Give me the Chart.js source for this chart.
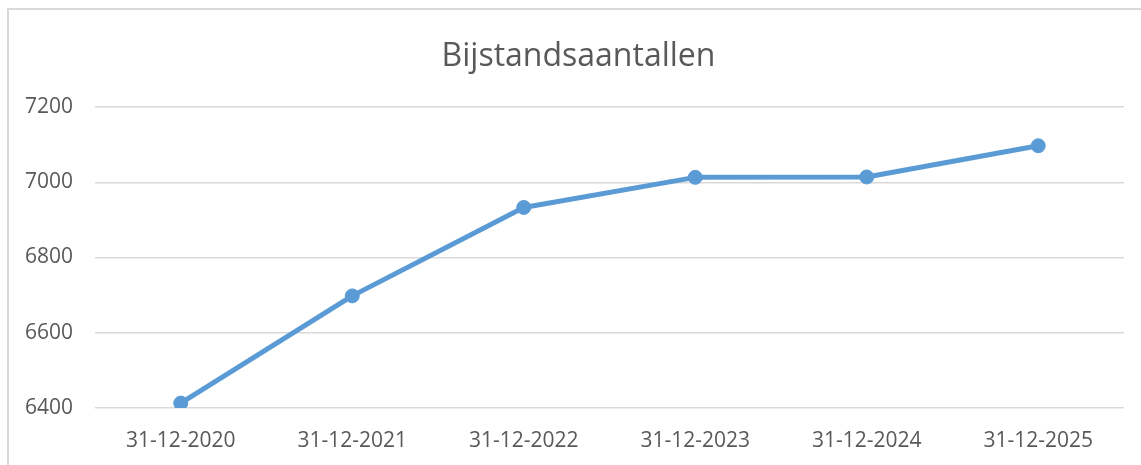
<!DOCTYPE html>
<html>
<head>
<meta charset="utf-8">
<script src="https://cdn.jsdelivr.net/npm/chart.js@4"></script>
<style>
  html, body { margin: 0; padding: 0; background: #ffffff; overflow: hidden; width: 1141px; height: 465px; }
  #frame { position: absolute; left: 7px; top: 8px; border-left: 2px solid #d9d9d9; border-top: 2px solid #d9d9d9; width: 1139px; height: 460px; }
  canvas { display: block; }
</style>
</head>
<body>
<div id="frame"><canvas id="c" width="1139" height="455"></canvas></div>
<script>
const chartTitle = "Bijstandsaantallen";
const categories = ["31-12-2020", "31-12-2021", "31-12-2022", "31-12-2023", "31-12-2024", "31-12-2025"];
const bijstandValues = [6413, 6698, 6933, 7013, 7014, 7097];
const yTickMin = 6400;
const yTickMax = 7200;
const yTickStep = 200;

const textColor = "#595959";
const lineColor = "#5B9BD5";
const fontFamily = "'Open Sans', 'Liberation Sans', sans-serif";

// Centre the title over the full chart width (not only the padded area)
const fullWidthTitle = {
  id: "fullWidthTitle",
  afterLayout(chart) {
    const tb = chart.titleBlock;
    if (tb) { tb.left = 0; tb.right = chart.width; tb.width = chart.width; }
  }
};

new Chart(document.getElementById("c"), {
  type: "line",
  data: {
    labels: categories,
    datasets: [{
      label: chartTitle,
      data: bijstandValues,
      borderColor: lineColor,
      backgroundColor: lineColor,
      borderWidth: 5,
      borderCapStyle: "round",
      borderJoinStyle: "round",
      pointRadius: 7,
      pointHoverRadius: 7,
      pointBackgroundColor: lineColor,
      pointBorderColor: lineColor,
      pointBorderWidth: 1,
      tension: 0,
      fill: false
    }]
  },
  plugins: [fullWidthTitle],
  options: {
    responsive: false,
    animation: false,
    devicePixelRatio: 1,
    layout: { padding: { left: 0, right: 24, top: 0, bottom: 0 } },
    plugins: {
      legend: { display: false },
      tooltip: { enabled: false },
      title: {
        display: true,
        text: chartTitle,
        color: textColor,
        font: { family: fontFamily, size: 32, weight: "normal", lineHeight: 1.2 },
        padding: { top: 28, bottom: 30.6 }
      }
    },
    scales: {
      x: {
        offset: true,
        grid: { display: false, drawTicks: false },
        border: { display: false },
        ticks: {
          color: textColor,
          font: { family: fontFamily, size: 21 },
          padding: 20,
          maxRotation: 0,
          autoSkip: false
        },
        afterFit: (s) => { s.height = 57; }
      },
      y: {
        min: yTickMin,
        max: yTickMax,
        grid: { color: "#d9d9d9", lineWidth: 1.5, drawTicks: false },
        border: { display: false },
        ticks: {
          stepSize: yTickStep,
          color: textColor,
          font: { family: fontFamily, size: 21 },
          padding: 22,
          callback: (v) => String(v)
        },
        afterFit: (s) => { s.width = 86; }
      }
    }
  }
});
</script>
</body>
</html>
